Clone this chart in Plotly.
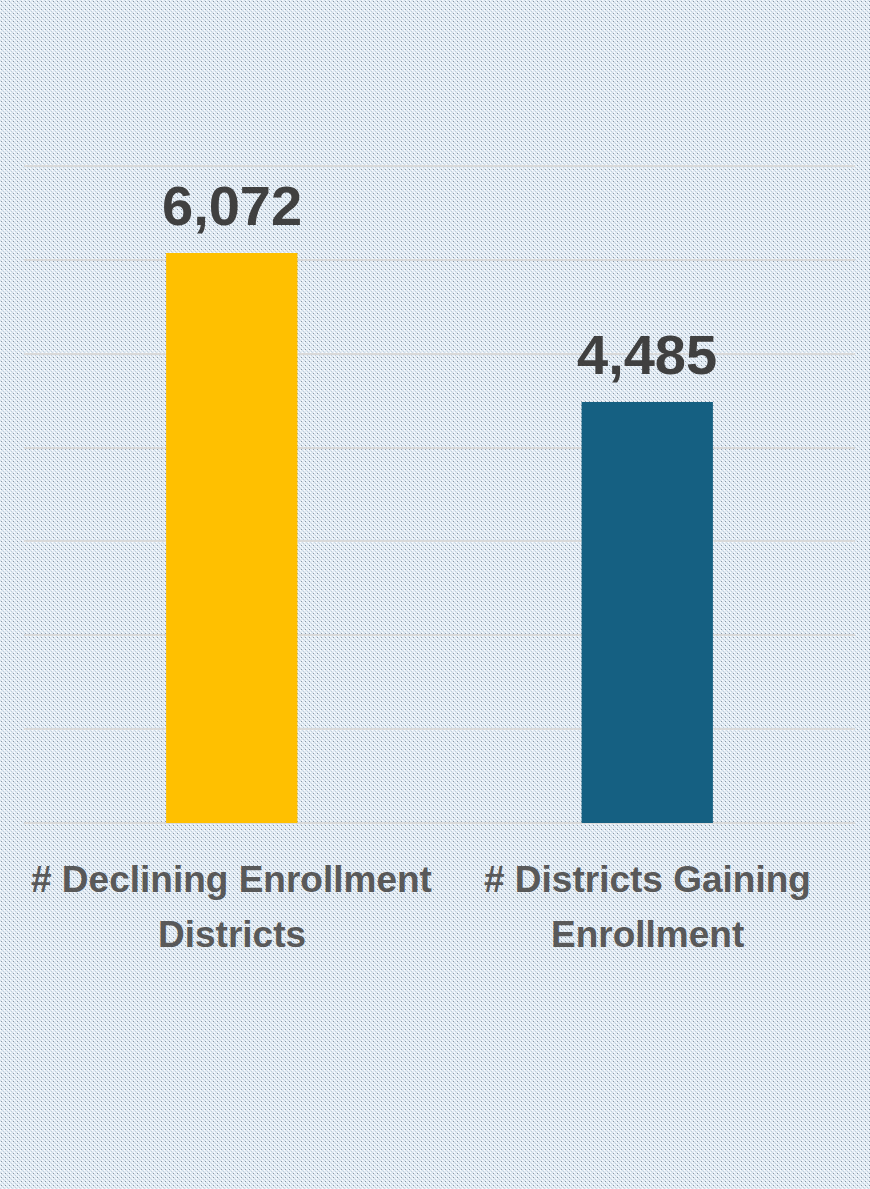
import base64
import plotly.graph_objects as go

# ---- data ----
categories = ["# Declining Enrollment Districts", "# Districts Gaining Enrollment"]
label_line1 = ["# Declining Enrollment", "# Districts Gaining"]
label_line2 = ["Districts", "Enrollment"]
values = [6072, 4485]
bar_colors = ["#FFC000", "#156082"]
grid_vals = [1000, 2000, 3000, 4000, 5000, 6000, 7000]

W, H = 870, 1189
L, R, T, B = 24, 15, 161, 366
pw = W - L - R
ph = H - T - B
ymax = 7000 * ph / (ph - 5)   # leave a little room so the 7,000 gridline is drawn

# dotted background texture (svg pattern)
svg = f"""<svg xmlns='http://www.w3.org/2000/svg' width='{W}' height='{H}' shape-rendering='crispEdges'>
<defs><pattern id='p' width='4' height='4' patternUnits='userSpaceOnUse'>
<rect width='4' height='4' fill='#e4edf5'/>
<rect x='0' y='0' width='1' height='1' fill='#d0dde9'/>
<rect x='2' y='2' width='1' height='1' fill='#d0dde9'/>
<rect x='2' y='0' width='1' height='1' fill='#fafcfe'/>
<rect x='0' y='2' width='1' height='1' fill='#fafcfe'/>
<rect x='1' y='1' width='1' height='1' fill='#8a96a3'/>
<rect x='3' y='3' width='1' height='1' fill='#c2cedb'/>
</pattern></defs>
<rect width='{W}' height='{H}' fill='url(#p)'/>
</svg>"""
src = "data:image/svg+xml;base64," + base64.b64encode(svg.encode()).decode()

FONT = "Liberation Sans, Arial, sans-serif"

fig = go.Figure()
fig.add_trace(go.Bar(
    x=categories,
    y=values,
    marker=dict(color=bar_colors, line=dict(width=0)),
    width=0.316,
    hoverinfo="skip",
))

for cat, v in zip(categories, values):
    fig.add_annotation(x=cat, xref="x", y=v, yref="y", text=f"<b>{v:,}</b>",
                       showarrow=False, yanchor="bottom", yshift=14,
                       font=dict(family=FONT, size=56, color="#404040"))

for cat, l1, l2 in zip(categories, label_line1, label_line2):
    fig.add_annotation(x=cat, xref="x", y=0, yref="paper", text=f"<b>{l1}</b>",
                       showarrow=False, yanchor="middle", yshift=-56,
                       font=dict(family=FONT, size=37, color="#595959"))
    fig.add_annotation(x=cat, xref="x", y=0, yref="paper", text=f"<b>{l2}</b>",
                       showarrow=False, yanchor="middle", yshift=-111,
                       font=dict(family=FONT, size=37, color="#595959"))

fig.add_layout_image(dict(
    source=src, xref="paper", yref="paper",
    x=-L / pw, y=1 + T / ph, sizex=W / pw, sizey=H / ph,
    xanchor="left", yanchor="top", sizing="stretch", layer="below",
))

fig.update_layout(
    width=W, height=H,
    margin=dict(l=L, r=R, t=T, b=B, pad=0),
    paper_bgcolor="#dce5ed",
    plot_bgcolor="rgba(0,0,0,0)",
    showlegend=False,
    bargap=0.684,
    xaxis=dict(showticklabels=False, showgrid=False, zeroline=False, showline=False,
               range=[-0.5, 1.5]),
    yaxis=dict(range=[0, ymax], tickvals=grid_vals,
               showgrid=True, gridcolor="#d9d9d9", gridwidth=1.5,
               showticklabels=False, zeroline=True, zerolinecolor="#d9d9d9", zerolinewidth=1.5,
               showline=False),
    font=dict(family=FONT),
)

fig.write_html("out.html")
